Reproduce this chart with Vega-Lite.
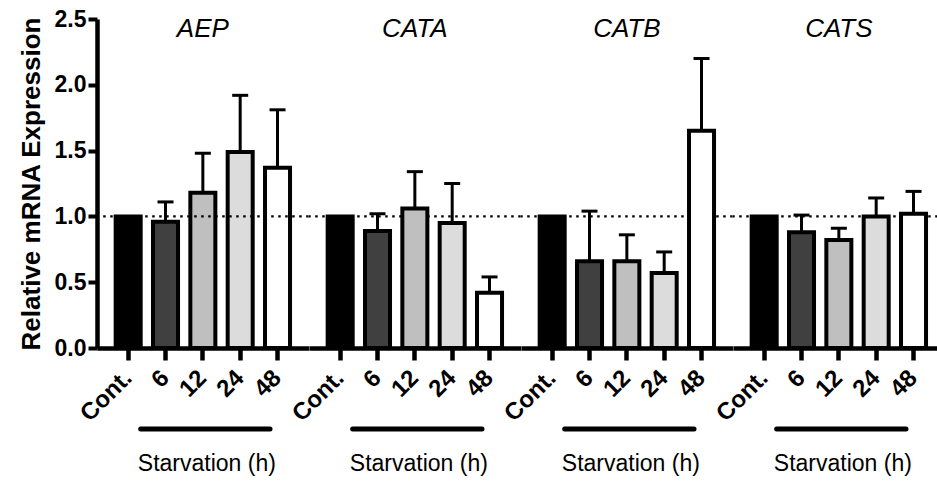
{
  "$schema": "https://vega.github.io/schema/vega-lite/v6.json",
  "background": "white",
  "bounds": "flush",
  "spacing": 0,
  "padding": {"left": 18, "top": 8, "right": 0, "bottom": 0},
  "config": {
    "font": "Liberation Sans",
    "view": {"stroke": "transparent", "strokeWidth": 0},
    "scale": {"bandPaddingInner": 0.33, "bandPaddingOuter": 0.5},
    "axis": {"grid": false, "domain": true, "ticks": true, "domainColor": "black", "tickColor": "black", "labelColor": "black", "titleColor": "black"},
    "axisQuantitative": {"domain": true, "ticks": true, "domainColor": "black", "tickColor": "black"},
    "axisX": {"title": null, "labelAngle": -45, "labelAlign": "right", "labelBaseline": "middle", "labelFontSize": 24, "labelFontWeight": "bold", "tickSize": 12, "tickWidth": 4.5, "domainWidth": 4.5, "labelPadding": 14},
    "axisY": {"domain": true, "ticks": true, "domainColor": "black", "tickColor": "black", "labelFontSize": 23, "labelFontWeight": "bold", "labelPadding": 2, "tickSize": 9, "tickWidth": 4, "domainWidth": 4.5, "titleFontSize": 26, "titleFontWeight": "bold", "titlePadding": 10}
  },
  "data": {
    "values": [
      {"gene": "AEP", "time": "Cont.", "mean": 1.0, "upper": null},
      {"gene": "AEP", "time": "6", "mean": 0.96, "upper": 1.11},
      {"gene": "AEP", "time": "12", "mean": 1.18, "upper": 1.48},
      {"gene": "AEP", "time": "24", "mean": 1.49, "upper": 1.92},
      {"gene": "AEP", "time": "48", "mean": 1.37, "upper": 1.81},
      {"gene": "CATA", "time": "Cont.", "mean": 1.0, "upper": null},
      {"gene": "CATA", "time": "6", "mean": 0.89, "upper": 1.02},
      {"gene": "CATA", "time": "12", "mean": 1.06, "upper": 1.34},
      {"gene": "CATA", "time": "24", "mean": 0.95, "upper": 1.25},
      {"gene": "CATA", "time": "48", "mean": 0.42, "upper": 0.54},
      {"gene": "CATB", "time": "Cont.", "mean": 1.0, "upper": null},
      {"gene": "CATB", "time": "6", "mean": 0.66, "upper": 1.04},
      {"gene": "CATB", "time": "12", "mean": 0.66, "upper": 0.86},
      {"gene": "CATB", "time": "24", "mean": 0.57, "upper": 0.73},
      {"gene": "CATB", "time": "48", "mean": 1.65, "upper": 2.2},
      {"gene": "CATS", "time": "Cont.", "mean": 1.0, "upper": null},
      {"gene": "CATS", "time": "6", "mean": 0.88, "upper": 1.01},
      {"gene": "CATS", "time": "12", "mean": 0.82, "upper": 0.91},
      {"gene": "CATS", "time": "24", "mean": 1.0, "upper": 1.14},
      {"gene": "CATS", "time": "48", "mean": 1.02, "upper": 1.19}
    ]
  },
  "hconcat": [
    {
      "width": 211.7, "height": 329,
      "transform": [{"filter": "datum.gene === 'AEP'"}],
      "layer": [
        {"mark": {"type": "bar", "stroke": "black", "strokeWidth": 4}, "encoding": {
          "x": {"field": "time", "type": "nominal", "sort": ["Cont.", "6", "12", "24", "48"]},
          "y": {"field": "mean", "type": "quantitative", "scale": {"domain": [0, 2.5], "nice": false}, "axis": {"title": "Relative mRNA Expression", "tickCount": 5, "format": ".1f", "domain": true, "ticks": true, "orient": "left", "domainColor": "black", "tickColor": "black", "domainWidth": 4.5, "tickWidth": 4, "tickSize": 9}},
          "fill": {"field": "time", "type": "nominal", "scale": {"domain": ["Cont.", "6", "12", "24", "48"], "range": ["#000000", "#404040", "#bfbfbf", "#dcdcdc", "#ffffff"]}, "legend": null}}},
        {"transform": [{"filter": "datum.time === 'Cont.'"}], "mark": {"type": "rule", "strokeDash": [2.5, 4.5], "strokeWidth": 2.2, "color": "black"}, "encoding": {"y": {"datum": 1, "type": "quantitative"}}},
        {"transform": [{"filter": "datum.time !== 'Cont.'"}], "mark": {"type": "rule", "strokeWidth": 3, "color": "black"}, "encoding": {"x": {"field": "time", "type": "nominal", "sort": ["Cont.", "6", "12", "24", "48"]}, "y": {"field": "mean", "type": "quantitative"}, "y2": {"field": "upper"}}},
        {"transform": [{"filter": "datum.time !== 'Cont.'"}], "mark": {"type": "tick", "thickness": 3, "size": 16, "color": "black", "opacity": 1}, "encoding": {"x": {"field": "time", "type": "nominal", "sort": ["Cont.", "6", "12", "24", "48"]}, "y": {"field": "upper", "type": "quantitative"}}},
        {"transform": [{"filter": "datum.time === 'Cont.'"}], "mark": {"type": "text", "fontStyle": "italic", "fontSize": 26, "baseline": "alphabetic", "align": "center", "color": "black"}, "encoding": {"y": {"datum": 2.36, "type": "quantitative"}, "text": {"field": "gene"}}},
        {"transform": [{"filter": "datum.time === 'Cont.'"}], "mark": {"type": "rule", "strokeWidth": 5, "strokeCap": "round", "color": "black"}, "encoding": {"x": {"datum": "Cont.", "bandPosition": 1}, "x2": {"datum": "48", "bandPosition": 0.2}, "y": {"datum": -0.616, "type": "quantitative"}}},
        {"transform": [{"filter": "datum.time === 'Cont.'"}], "mark": {"type": "text", "fontSize": 23, "baseline": "alphabetic", "align": "center", "color": "black", "dx": 4}, "encoding": {"y": {"datum": -0.935, "type": "quantitative"}, "text": {"value": "Starvation (h)"}}}
      ]
    },
    {
      "width": 211.7, "height": 329,
      "transform": [{"filter": "datum.gene === 'CATA'"}],
      "layer": [
        {"transform": [{"filter": "datum.time === 'Cont.'"}], "mark": {"type": "rule", "strokeDash": [2.5, 4.5], "strokeWidth": 2.2, "color": "black"}, "encoding": {"y": {"datum": 1, "type": "quantitative", "axis": null}}},
        {"mark": {"type": "bar", "stroke": "black", "strokeWidth": 4}, "encoding": {
          "x": {"field": "time", "type": "nominal", "sort": ["Cont.", "6", "12", "24", "48"]},
          "y": {"field": "mean", "type": "quantitative", "scale": {"domain": [0, 2.5], "nice": false}, "axis": null},
          "fill": {"field": "time", "type": "nominal", "scale": {"domain": ["Cont.", "6", "12", "24", "48"], "range": ["#000000", "#404040", "#bfbfbf", "#dcdcdc", "#ffffff"]}, "legend": null}}},
        {"transform": [{"filter": "datum.time !== 'Cont.'"}], "mark": {"type": "rule", "strokeWidth": 3, "color": "black"}, "encoding": {"x": {"field": "time", "type": "nominal", "sort": ["Cont.", "6", "12", "24", "48"]}, "y": {"field": "mean", "type": "quantitative", "axis": null}, "y2": {"field": "upper"}}},
        {"transform": [{"filter": "datum.time !== 'Cont.'"}], "mark": {"type": "tick", "thickness": 3, "size": 16, "color": "black", "opacity": 1}, "encoding": {"x": {"field": "time", "type": "nominal", "sort": ["Cont.", "6", "12", "24", "48"]}, "y": {"field": "upper", "type": "quantitative", "axis": null}}},
        {"transform": [{"filter": "datum.time === 'Cont.'"}], "mark": {"type": "text", "fontStyle": "italic", "fontSize": 26, "baseline": "alphabetic", "align": "center", "color": "black"}, "encoding": {"y": {"datum": 2.36, "type": "quantitative", "axis": null}, "text": {"field": "gene"}}},
        {"transform": [{"filter": "datum.time === 'Cont.'"}], "mark": {"type": "rule", "strokeWidth": 5, "strokeCap": "round", "color": "black"}, "encoding": {"x": {"datum": "Cont.", "bandPosition": 1}, "x2": {"datum": "48", "bandPosition": 0.2}, "y": {"datum": -0.616, "type": "quantitative", "axis": null}}},
        {"transform": [{"filter": "datum.time === 'Cont.'"}], "mark": {"type": "text", "fontSize": 23, "baseline": "alphabetic", "align": "center", "color": "black", "dx": 4}, "encoding": {"y": {"datum": -0.935, "type": "quantitative", "axis": null}, "text": {"value": "Starvation (h)"}}}
      ]
    },
    {
      "width": 211.7, "height": 329,
      "transform": [{"filter": "datum.gene === 'CATB'"}],
      "layer": [
        {"transform": [{"filter": "datum.time === 'Cont.'"}], "mark": {"type": "rule", "strokeDash": [2.5, 4.5], "strokeWidth": 2.2, "color": "black"}, "encoding": {"y": {"datum": 1, "type": "quantitative", "axis": null}}},
        {"mark": {"type": "bar", "stroke": "black", "strokeWidth": 4}, "encoding": {
          "x": {"field": "time", "type": "nominal", "sort": ["Cont.", "6", "12", "24", "48"]},
          "y": {"field": "mean", "type": "quantitative", "scale": {"domain": [0, 2.5], "nice": false}, "axis": null},
          "fill": {"field": "time", "type": "nominal", "scale": {"domain": ["Cont.", "6", "12", "24", "48"], "range": ["#000000", "#404040", "#bfbfbf", "#dcdcdc", "#ffffff"]}, "legend": null}}},
        {"transform": [{"filter": "datum.time !== 'Cont.'"}], "mark": {"type": "rule", "strokeWidth": 3, "color": "black"}, "encoding": {"x": {"field": "time", "type": "nominal", "sort": ["Cont.", "6", "12", "24", "48"]}, "y": {"field": "mean", "type": "quantitative", "axis": null}, "y2": {"field": "upper"}}},
        {"transform": [{"filter": "datum.time !== 'Cont.'"}], "mark": {"type": "tick", "thickness": 3, "size": 16, "color": "black", "opacity": 1}, "encoding": {"x": {"field": "time", "type": "nominal", "sort": ["Cont.", "6", "12", "24", "48"]}, "y": {"field": "upper", "type": "quantitative", "axis": null}}},
        {"transform": [{"filter": "datum.time === 'Cont.'"}], "mark": {"type": "text", "fontStyle": "italic", "fontSize": 26, "baseline": "alphabetic", "align": "center", "color": "black"}, "encoding": {"y": {"datum": 2.36, "type": "quantitative", "axis": null}, "text": {"field": "gene"}}},
        {"transform": [{"filter": "datum.time === 'Cont.'"}], "mark": {"type": "rule", "strokeWidth": 5, "strokeCap": "round", "color": "black"}, "encoding": {"x": {"datum": "Cont.", "bandPosition": 1}, "x2": {"datum": "48", "bandPosition": 0.2}, "y": {"datum": -0.616, "type": "quantitative", "axis": null}}},
        {"transform": [{"filter": "datum.time === 'Cont.'"}], "mark": {"type": "text", "fontSize": 23, "baseline": "alphabetic", "align": "center", "color": "black", "dx": 4}, "encoding": {"y": {"datum": -0.935, "type": "quantitative", "axis": null}, "text": {"value": "Starvation (h)"}}}
      ]
    },
    {
      "width": 211.7, "height": 329,
      "transform": [{"filter": "datum.gene === 'CATS'"}],
      "layer": [
        {"transform": [{"filter": "datum.time === 'Cont.'"}], "mark": {"type": "rule", "strokeDash": [2.5, 4.5], "strokeWidth": 2.2, "color": "black"}, "encoding": {"y": {"datum": 1, "type": "quantitative", "axis": null}}},
        {"mark": {"type": "bar", "stroke": "black", "strokeWidth": 4}, "encoding": {
          "x": {"field": "time", "type": "nominal", "sort": ["Cont.", "6", "12", "24", "48"]},
          "y": {"field": "mean", "type": "quantitative", "scale": {"domain": [0, 2.5], "nice": false}, "axis": null},
          "fill": {"field": "time", "type": "nominal", "scale": {"domain": ["Cont.", "6", "12", "24", "48"], "range": ["#000000", "#404040", "#bfbfbf", "#dcdcdc", "#ffffff"]}, "legend": null}}},
        {"transform": [{"filter": "datum.time !== 'Cont.'"}], "mark": {"type": "rule", "strokeWidth": 3, "color": "black"}, "encoding": {"x": {"field": "time", "type": "nominal", "sort": ["Cont.", "6", "12", "24", "48"]}, "y": {"field": "mean", "type": "quantitative", "axis": null}, "y2": {"field": "upper"}}},
        {"transform": [{"filter": "datum.time !== 'Cont.'"}], "mark": {"type": "tick", "thickness": 3, "size": 16, "color": "black", "opacity": 1}, "encoding": {"x": {"field": "time", "type": "nominal", "sort": ["Cont.", "6", "12", "24", "48"]}, "y": {"field": "upper", "type": "quantitative", "axis": null}}},
        {"transform": [{"filter": "datum.time === 'Cont.'"}], "mark": {"type": "text", "fontStyle": "italic", "fontSize": 26, "baseline": "alphabetic", "align": "center", "color": "black"}, "encoding": {"y": {"datum": 2.36, "type": "quantitative", "axis": null}, "text": {"field": "gene"}}},
        {"transform": [{"filter": "datum.time === 'Cont.'"}], "mark": {"type": "rule", "strokeWidth": 5, "strokeCap": "round", "color": "black"}, "encoding": {"x": {"datum": "Cont.", "bandPosition": 1}, "x2": {"datum": "48", "bandPosition": 0.2}, "y": {"datum": -0.616, "type": "quantitative", "axis": null}}},
        {"transform": [{"filter": "datum.time === 'Cont.'"}], "mark": {"type": "text", "fontSize": 23, "baseline": "alphabetic", "align": "center", "color": "black", "dx": 4}, "encoding": {"y": {"datum": -0.935, "type": "quantitative", "axis": null}, "text": {"value": "Starvation (h)"}}}
      ]
    }
  ]
}
